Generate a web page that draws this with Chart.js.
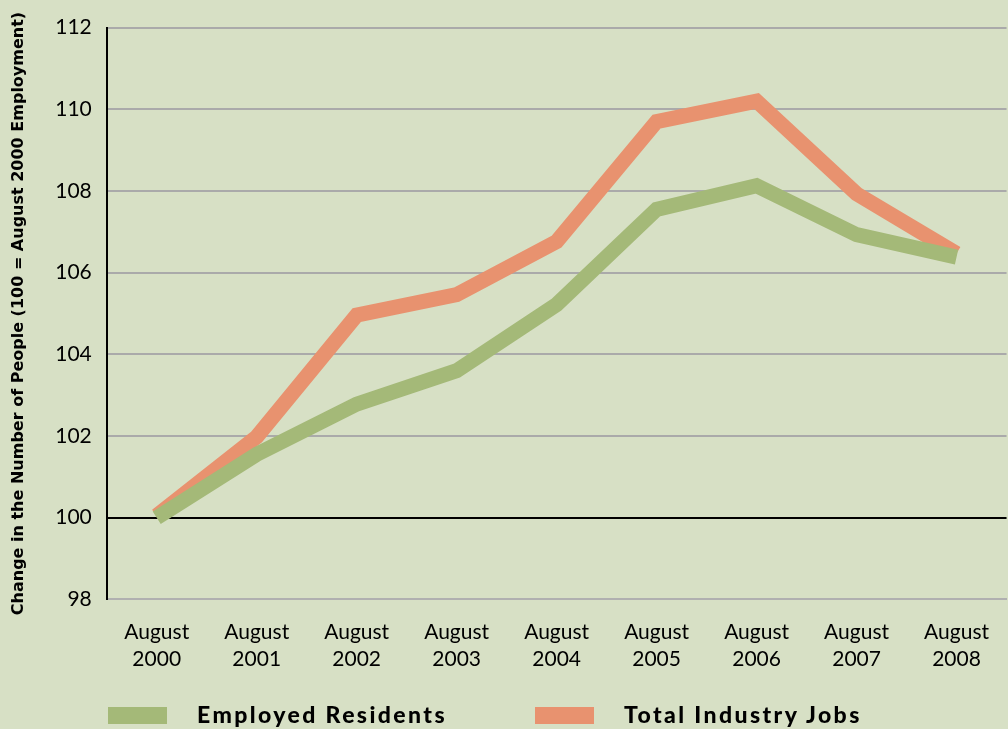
<!DOCTYPE html>
<html>
<head>
<meta charset="utf-8">
<script src="https://cdn.jsdelivr.net/npm/chart.js@4/dist/chart.umd.min.js"></script>
<style>
  html, body { margin: 0; padding: 0; background: #d7e0c5; }
  #wrap { position: relative; width: 1008px; height: 729px; overflow: hidden; }
  .key { position: absolute; top: 700px; height: 29px; font: 900 23px Lato, sans-serif; letter-spacing: 2.4px; color: #000; }
  .key span.box { position: absolute; top: 7px; width: 59px; height: 17px; }
  .key span.txt { position: absolute; left: 89px; top: 0; white-space: nowrap; line-height: 29px; }
</style>
</head>
<body>
<div id="wrap">
  <canvas id="chart"></canvas>
  <div class="key" style="left:108px"><span class="box" id="box0"></span><span class="txt" id="txt0"></span></div>
  <div class="key" style="left:535px"><span class="box" id="box1"></span><span class="txt" id="txt1"></span></div>
</div>
<script>
const years = ['2000', '2001', '2002', '2003', '2004', '2005', '2006', '2007', '2008'];
const categories = years.map(y => ['August', y]);
const employedResidents = [100.0, 101.55, 102.78, 103.6, 105.22, 107.55, 108.13, 106.93, 106.38];
const totalIndustryJobs = [100.05, 101.98, 104.96, 105.46, 106.76, 109.7, 110.2, 107.93, 106.47];
const yTicks = [98, 100, 102, 104, 106, 108, 110, 112];
const seriesNames = ['Employed Residents', 'Total Industry Jobs'];
const seriesColors = ['#a4b978', '#e8926f'];

// HTML legend under the chart
seriesNames.forEach((name, i) => {
  document.getElementById('box' + i).style.background = seriesColors[i];
  document.getElementById('txt' + i).textContent = name;
});

const ctx = document.getElementById('chart').getContext('2d');
new Chart(ctx, {
  type: 'line',
  data: {
    labels: categories,
    datasets: [
      {
        label: seriesNames[1],
        data: totalIndustryJobs,
        borderColor: seriesColors[1],
        borderWidth: 15,
        pointRadius: 0,
        tension: 0,
        order: 2
      },
      {
        label: seriesNames[0],
        data: employedResidents,
        borderColor: seriesColors[0],
        borderWidth: 15,
        pointRadius: 0,
        tension: 0,
        order: 1
      }
    ]
  },
  options: {
    responsive: true,
    maintainAspectRatio: false,
    animation: false,
    layout: { padding: { top: 24, right: 0, bottom: 37, left: 0 } },
    plugins: {
      legend: { display: false },
      tooltip: { enabled: false }
    },
    scales: {
      x: {
        offset: true,
        grid: { display: false, drawTicks: false },
        border: { display: true, color: '#b0b0b0', width: 2 },
        ticks: {
          color: '#000',
          padding: 19,
          maxRotation: 0,
          autoSkip: false,
          font: { family: 'Lato, sans-serif', size: 21, lineHeight: 1.3 }
        }
      },
      y: {
        min: 98,
        max: 112,
        afterBuildTicks: scale => { scale.ticks = yTicks.map(v => ({ value: v })); },
        grid: {
          drawTicks: false,
          lineWidth: 2,
          color: c => (c.tick && c.tick.value === 100 ? '#000' : '#aaaaaa')
        },
        border: { display: true, color: '#000', width: 2 },
        ticks: {
          color: '#000',
          padding: 15,
          font: { family: 'Lato, sans-serif', size: 21 }
        },
        title: {
          display: true,
          text: 'Change in the Number of People (100 = August 2000 Employment)',
          color: '#000',
          padding: { top: 9, bottom: 12 },
          font: { family: 'DejaVu Sans, sans-serif', size: 16, weight: 'bold', lineHeight: 1.2 }
        }
      }
    }
  }
});
</script>
</body>
</html>
